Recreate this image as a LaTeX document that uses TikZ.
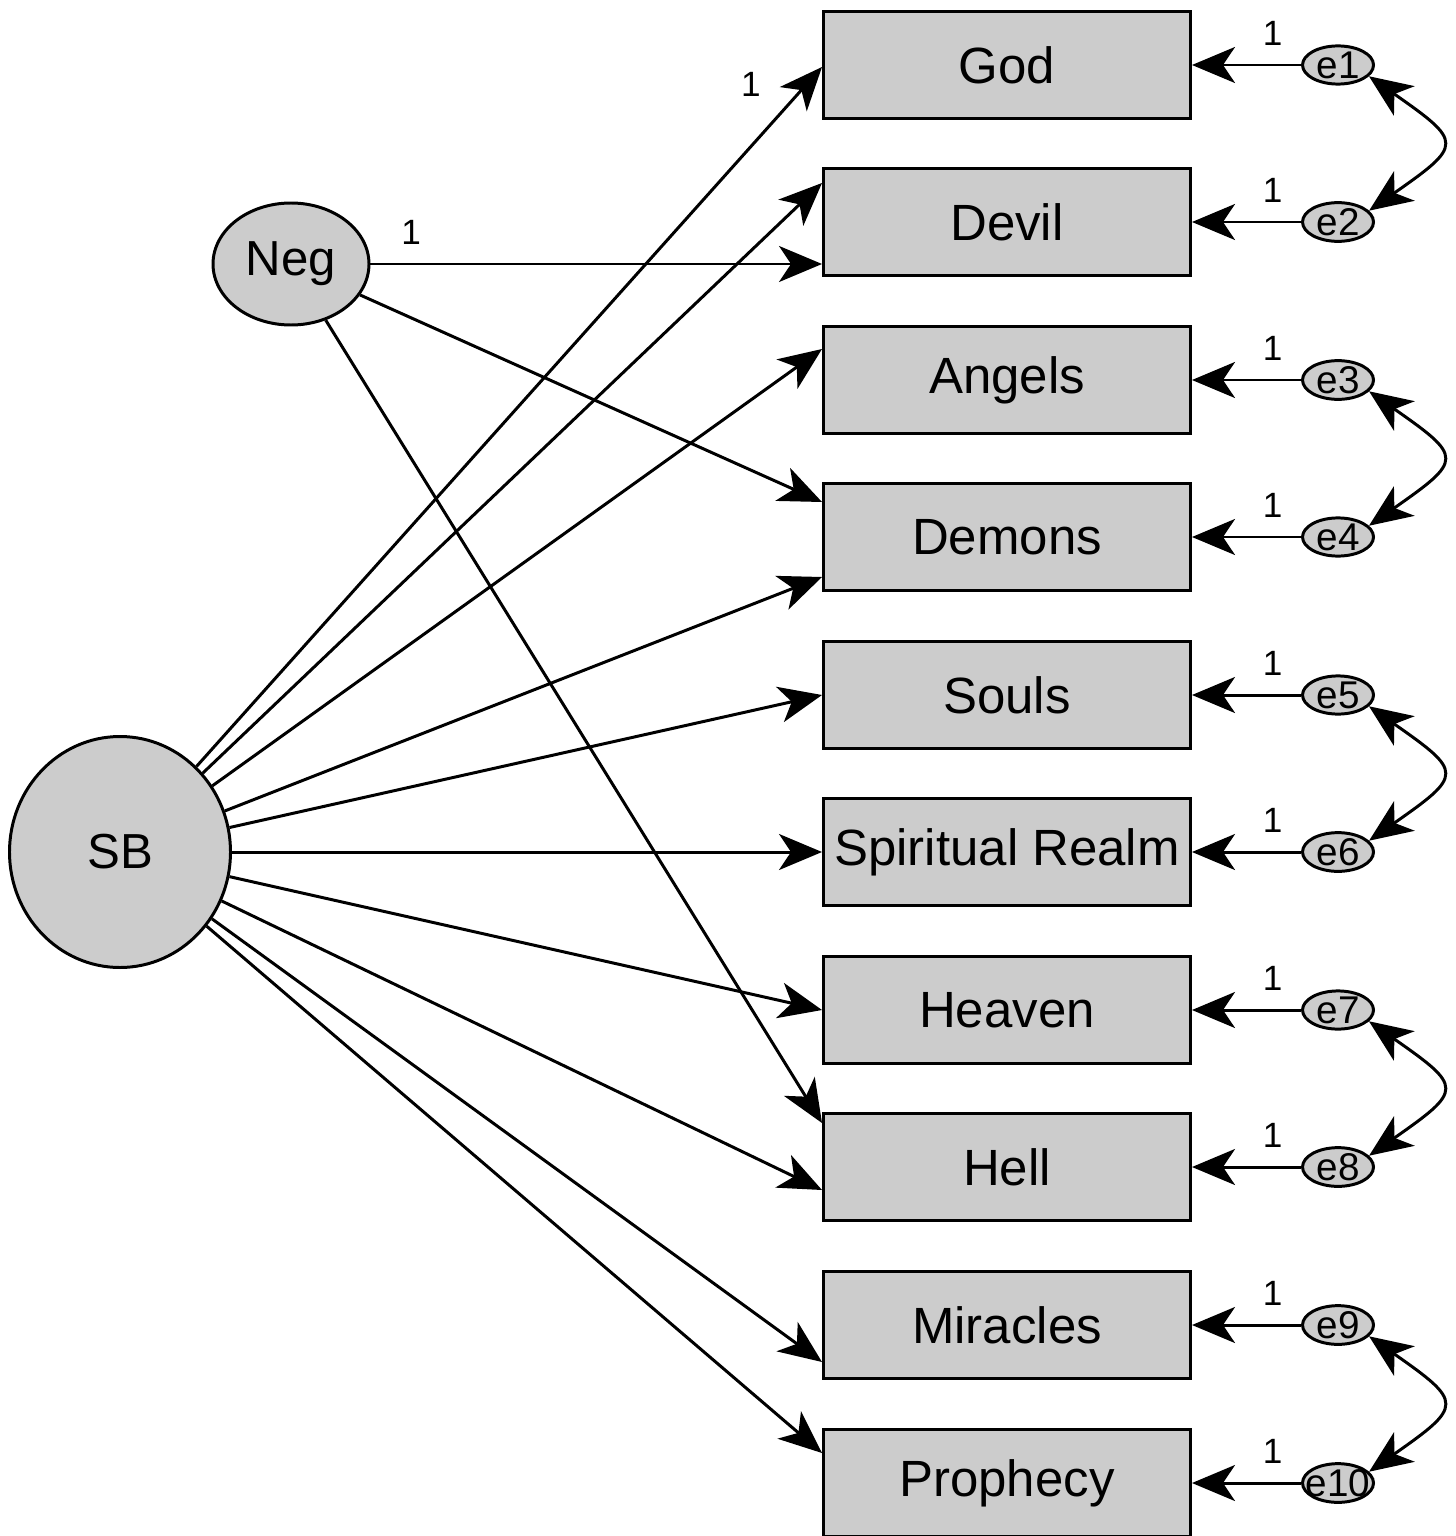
\documentclass[tikz,border=0pt]{standalone}
\usepackage{fontspec}
\setmainfont{Liberation Sans}
\usetikzlibrary{arrows.meta,shapes.geometric}

\begin{document}
\begin{tikzpicture}[
    var/.style={draw,fill=black!20,line width=0.85pt,minimum width=3.67cm,minimum height=1.07cm,inner sep=1pt,font=\fontsize{14.5}{17}\selectfont},
    lat/.style={ellipse,draw,fill=black!20,line width=0.85pt,inner sep=0pt,font=\fontsize{14}{17}\selectfont},
    err/.style={ellipse,draw,fill=black!20,line width=0.85pt,minimum width=0.71cm,minimum height=0.33cm,inner sep=0pt,font=\fontsize{11}{12}\selectfont},
    arr/.style={-{Stealth[length=0.43cm,width=0.36cm,inset=0.12cm]},line width=0.85pt},
    cov/.style={{Stealth[length=0.43cm,width=0.36cm,inset=0.12cm]}-{Stealth[length=0.43cm,width=0.36cm,inset=0.12cm]},line width=0.85pt},
    one/.style={font=\fontsize{10}{12}\selectfont,inner sep=1pt}
  ]
  \useasboundingbox (0,0) rectangle (14.55,-15.36);

  % latent variables
  \node[lat,minimum width=2.21cm,minimum height=2.31cm](sb)at(1.20,-8.52){SB};
  \node[lat,minimum width=1.56cm,minimum height=1.22cm](neg)at(2.91,-2.64){\raisebox{-2pt}{Neg}};

  % observed items
  \node[var](god)at(10.07,-0.65){God};
  \node[var](devil)at(10.07,-2.22){Devil};
  \node[var](angels)at(10.07,-3.80){Angels};
  \node[var](demons)at(10.07,-5.37){Demons};
  \node[var](souls)at(10.07,-6.95){Souls};
  \node[var](realm)at(10.07,-8.52){Spiritual Realm};
  \node[var](heaven)at(10.07,-10.10){Heaven};
  \node[var](hell)at(10.07,-11.67){Hell};
  \node[var](miracles)at(10.07,-13.25){Miracles};
  \node[var](prophecy)at(10.07,-14.83){Prophecy};

  % errors
  \node[err](e1)at(13.38,-0.65){e1};
  \node[err](e2)at(13.38,-2.22){e2};
  \node[err](e3)at(13.38,-3.80){e3};
  \node[err](e4)at(13.38,-5.37){e4};
  \node[err](e5)at(13.38,-6.95){e5};
  \node[err](e6)at(13.38,-8.52){e6};
  \node[err](e7)at(13.38,-10.10){e7};
  \node[err](e8)at(13.38,-11.67){e8};
  \node[err](e9)at(13.38,-13.25){e9};
  \node[err](e10)at(13.38,-14.83){\makebox[0.45cm]{e10}};

  % loadings of SB
  \draw[arr](sb)--([yshift=-0.02cm]god.west) node[one,pos=1,xshift=-0.71cm,yshift=-0.17cm](l0){1};
  \draw[arr](sb)--([yshift=0.39cm]devil.west);
  \draw[arr](sb)--([yshift=0.31cm]angels.west);
  \draw[arr](sb)--([yshift=-0.40cm]demons.west);
  \draw[arr](sb)--(souls.west);
  \draw[arr](sb)--(realm.west);
  \draw[arr](sb)--(heaven.west);
  \draw[arr](sb)--([yshift=-0.23cm]hell.west);
  \draw[arr](sb)--([yshift=-0.37cm]miracles.west);
  \draw[arr](sb)--([yshift=0.30cm]prophecy.west);

  % loadings of Neg
  \draw[arr](neg)--(neg -| devil.west) node[one,pos=0.09,above=4pt](ln){1};
  \draw[arr](neg)--([yshift=0.35cm]demons.west);
  \draw[arr](neg)--([yshift=0.44cm]hell.west);

  % error paths
  \draw[arr](e1)--(god) node[one,pos=0.26,above=4pt](l1){1};
  \draw[arr](e2)--(devil) node[one,pos=0.26,above=4pt](l2){1};
  \draw[arr](e3)--(angels) node[one,pos=0.26,above=4pt](l3){1};
  \draw[arr](e4)--(demons) node[one,pos=0.26,above=4pt](l4){1};
  \draw[arr](e5)--(souls) node[one,pos=0.26,above=4pt](l5){1};
  \draw[arr](e6)--(realm) node[one,pos=0.26,above=4pt](l6){1};
  \draw[arr](e7)--(heaven) node[one,pos=0.26,above=4pt](l7){1};
  \draw[arr](e8)--(hell) node[one,pos=0.26,above=4pt](l8){1};
  \draw[arr](e9)--(miracles) node[one,pos=0.26,above=4pt](l9){1};
  \draw[arr](e10)--(prophecy) node[one,pos=0.26,above=4pt](l10){1};

  % covariances
  \draw[cov](e1.-20) .. controls +(-35:1.15) and +(35:1.15) .. (e2.20);
  \draw[cov](e3.-20) .. controls +(-35:1.15) and +(35:1.15) .. (e4.20);
  \draw[cov](e5.-20) .. controls +(-35:1.15) and +(35:1.15) .. (e6.20);
  \draw[cov](e7.-20) .. controls +(-35:1.15) and +(35:1.15) .. (e8.20);
  \draw[cov](e9.-20) .. controls +(-35:1.15) and +(35:1.15) .. (e10.20);
\end{tikzpicture}
\end{document}
